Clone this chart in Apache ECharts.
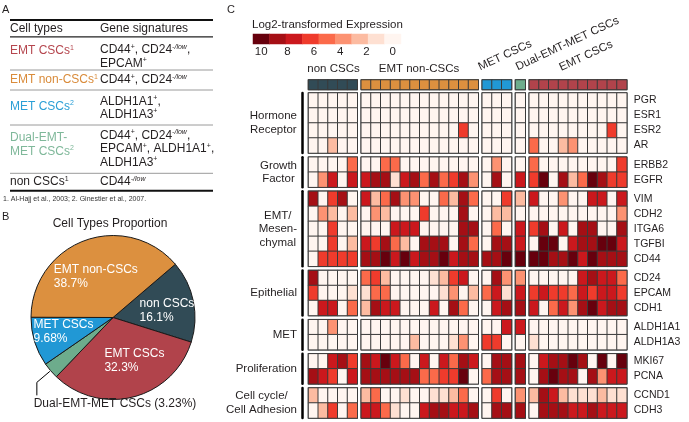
<!DOCTYPE html>
<html><head><meta charset="utf-8">
<script src="https://cdn.jsdelivr.net/npm/echarts@6/dist/echarts.min.js"></script>
<style>html,body{margin:0;padding:0;background:#fff}#c{width:689px;height:422px}</style>
</head><body><div id="c"></div>
<script>
// ---------------- DATA ----------------
// Panel A table
const tableLabels = [
  '{n|EMT CSCs}{s|1}',
  '{n|EMT non-CSCs}{s|1}',
  '{n|MET CSCs}{s|2}',
  '{n|Dual-EMT-}\n{n|MET CSCs}{s|2}',
  '{n|non CSCs}{s|1}'
];
const tableSignatures = [
  '{n|CD44}{s|+}{n|, CD24}{i|-/low}{n|,}\n{n|EPCAM}{s|+}',
  '{n|CD44}{s|+}{n|, CD24}{i|-/low}',
  '{n|ALDH1A1}{s|+}{n|,}\n{n|ALDH1A3}{s|+}',
  '{n|CD44}{s|+}{n|, CD24}{i|-/low}{n|,}\n{n|EPCAM}{s|+}{n|, ALDH1A1}{s|+}{n|,}\n{n|ALDH1A3}{s|+}',
  '{n|CD44}{i|-/low}'
];
const footnote = '1. Al-Hajj et al., 2003; 2. Ginestier et al., 2007.';

// Panel B pie
const pieNames = ['non CSCs', 'EMT CSCs', 'Dual-EMT-MET CSCs', 'MET CSCs', 'EMT non-CSCs'];
const piePercents = [16.1, 32.3, 3.23, 9.68, 38.7];

// Panel C heatmap
const cellTypes = ['non CSCs', 'EMT non-CSCs', 'MET CSCs', 'Dual-EMT-MET CSCs', 'EMT CSCs'];
const cellCounts = [5, 12, 3, 1, 10];
const geneGroups = ['Hormone\nReceptor', 'Growth\nFactor', 'EMT/\nMesen-\nchymal', 'Epithelial', 'MET', 'Proliferation', 'Cell cycle/\nCell Adhesion'];
const groupGenes = [
  ['PGR', 'ESR1', 'ESR2', 'AR'],
  ['ERBB2', 'EGFR'],
  ['VIM', 'CDH2', 'ITGA6', 'TGFBI', 'CD44'],
  ['CD24', 'EPCAM', 'CDH1'],
  ['ALDH1A1', 'ALDH1A3'],
  ['MKI67', 'PCNA'],
  ['CCND1', 'CDH3']
];
// rows: PGR ESR1 ESR2 AR ERBB2 EGFR VIM CDH2 ITGA6 TGFBI CD44 CD24 EPCAM CDH1 ALDH1A1 ALDH1A3 MKI67 PCNA CCND1 CDH3
const exprNonCSCs = [
  [0,0,0,0,0],[0,0,0,0,0],[0,0,0,0,0],[0,0,3,0,0],
  [0,0,0,0,5],[0,4,7,0,7],
  [8,0,6,8,0],[0,4,3,0,3],[0,0,6,0,0],[0,0,6,0,3],[0,6,6,6,6],
  [8,0,0,0,0],[6,0,0,0,2],[0,7,7,0,5],
  [0,0,4,0,0],[0,0,0,0,0],
  [0,0,7,8,6],[8,7,6,0,7],
  [3,0,0,0,0],[0,3,6,0,5]
];
const exprEMTnonCSCs = [
  [0,0,0,0,0,0,0,0,0,0,0,0],
  [0,0,0,0,0,0,0,0,0,0,0,0],
  [0,0,0,0,0,0,0,0,0,0,6,0],
  [0,0,0,0,0,0,0,0,0,0,0,0],
  [0,0,5,5,0,0,0,0,0,0,0,0],
  [7,8,8,2,7,8,5,8,5,6,8,4],
  [7,3,5,8,4,4,0,0,5,3,8,5],
  [0,4,3,0,0,0,6,0,0,0,8,0],
  [0,0,0,7,7,7,0,0,0,0,8,8],
  [7,6,8,5,3,0,8,8,8,0,8,5],
  [8,8,9,7,9,7,8,8,9,7,8,8],
  [5,6,3,0,0,0,0,2,3,6,7,0],
  [2,5,5,0,0,0,0,0,2,4,0,3],
  [3,8,7,7,0,0,0,7,0,8,5,0],
  [0,0,0,0,0,0,0,0,0,0,0,0],
  [0,0,0,0,0,3,0,0,0,2,4,0],
  [8,7,9,7,5,0,7,0,7,5,8,7],
  [8,8,8,8,8,8,5,5,6,6,9,0],
  [3,5,0,0,2,0,0,2,2,3,5,0],
  [7,7,5,2,0,0,7,8,8,7,7,8]
];
const exprMETCSCs = [
  [0,0,0],[0,0,0],[0,0,0],[0,0,0],
  [0,4,0],[0,8,0],
  [0,0,6],[0,3,3],[0,5,0],[0,8,8],[8,8,9],
  [0,8,4],[5,7,2],[0,7,8],
  [0,0,7],[6,6,0],
  [0,8,8],[5,8,8],
  [0,6,0],[0,8,8]
];
const exprDualCSCs = [
  [0],[0],[0],[0],
  [0],[7],
  [3],[0],[7],[7],[9],
  [4],[7],[8],
  [7],[0],
  [8],[8],
  [4],[8]
];
const exprEMTCSCs = [
  [0,0,0,0,0,0,0,0,0,0],
  [0,0,0,0,0,0,0,0,0,0],
  [0,0,0,0,0,0,0,0,6,0],
  [5,0,0,3,4,0,0,0,0,0],
  [5,0,0,0,0,0,0,0,0,6],
  [6,9,0,8,3,5,9,8,6,6],
  [7,0,0,4,0,0,7,7,0,7],
  [0,0,0,0,0,0,0,0,0,4],
  [6,8,0,7,0,8,8,0,0,8],
  [0,9,9,0,7,8,8,9,9,7],
  [9,9,8,8,9,7,9,8,8,8],
  [0,0,0,0,0,7,8,7,7,5],
  [6,7,6,6,5,7,6,7,7,6],
  [7,0,5,7,4,8,9,7,8,8],
  [0,0,0,0,0,0,0,0,0,0],
  [2,0,0,0,0,0,0,0,0,0],
  [0,7,8,8,9,8,0,9,0,9],
  [0,8,9,8,8,0,8,4,7,7],
  [3,8,7,3,2,2,2,3,2,2],
  [0,8,8,8,7,7,8,7,7,7]
];
const colorbarSteps = [10, 8.75, 7.5, 6.25, 5, 3.75, 2.5, 1.25, 0];
const colorbarTicks = [0, 2, 4, 6, 8, 10];

// ---------------- STYLE ----------------
const FONT = '"Liberation Sans", Arial, Helvetica, sans-serif';
const INK = '#231f20';
const reds = ['#fff5f0','#fee0d2','#fcbba1','#fc9272','#fb6a4a','#ef3b2c','#cb181d','#a50f15','#67000d'];
const typeColors = {
  'non CSCs': '#314b56', 'EMT non-CSCs': '#dc903f', 'MET CSCs': '#2198d5',
  'Dual-EMT-MET CSCs': '#6dac8c', 'EMT CSCs': '#b1434b'
};
const tableColors = ['#b5464e', '#d98b3a', '#2a9fd6', '#7fb89a', INK];
const CELL_BORDER = '#3a3a3a';

const chart = echarts.init(document.getElementById('c'), null, {renderer: 'canvas'});

// ---------------- HEATMAP LAYOUT ----------------
const colW = 9.75, colGap = 4, x0 = 308.5;
const rowH = 15, rowGap = 4.17, y0 = 93;
const headerTop = 80, headerH = 9.5;
const exprByType = [exprNonCSCs, exprEMTnonCSCs, exprMETCSCs, exprDualCSCs, exprEMTCSCs];

const colLeft = []; let gx = x0;
cellCounts.forEach(n => { colLeft.push(gx); gx += n * colW + colGap; });
const rowTop = []; let gy = y0;
groupGenes.forEach(g => { rowTop.push(gy); gy += g.length * rowH + rowGap; });

const grid = [], xAxis = [], yAxis = [], series = [];
const exprSeries = [], headerSeries = [];

cellTypes.forEach((ct, c) => {
  const n = cellCounts[c];
  const cols = Array.from({length: n}, (_, i) => String(i));
  grid.push({left: colLeft[c], top: headerTop, width: n * colW, height: headerH, show: true, borderColor: CELL_BORDER, borderWidth: 1.5});
  let gi = grid.length - 1;
  xAxis.push({gridIndex: gi, type: 'category', data: cols, show: false});
  yAxis.push({gridIndex: gi, type: 'category', data: ['h'], show: false});
  series.push({type: 'heatmap', xAxisIndex: xAxis.length - 1, yAxisIndex: yAxis.length - 1,
    data: cols.map((_, i) => [i, 0, c]), itemStyle: {borderColor: CELL_BORDER, borderWidth: 1}, emphasis: {disabled: true}});
  headerSeries.push(series.length - 1);

  let rowOffset = 0;
  groupGenes.forEach((genes, r) => {
    grid.push({left: colLeft[c], top: rowTop[r], width: n * colW, height: genes.length * rowH, show: true, borderColor: CELL_BORDER, borderWidth: 1.5});
    gi = grid.length - 1;
    xAxis.push({gridIndex: gi, type: 'category', data: cols, show: false});
    const ya = {gridIndex: gi, type: 'category', data: genes, inverse: true, show: false};
    if (c === 0) {
      Object.assign(ya, {show: true, position: 'left', offset: 6,
        axisLine: {show: true, lineStyle: {color: '#000', width: 2.5}},
        axisTick: {show: false}, axisLabel: {show: false}, splitLine: {show: false}});
    }
    if (c === cellTypes.length - 1) {
      Object.assign(ya, {show: true, position: 'right',
        axisLine: {show: false}, axisTick: {show: false}, splitLine: {show: false},
        axisLabel: {show: true, margin: 7, fontSize: 10.5, color: INK, fontFamily: FONT}});
    }
    yAxis.push(ya);
    const data = [];
    genes.forEach((g, gr) => {
      exprByType[c][rowOffset + gr].forEach((v, ci) => data.push([ci, gr, v]));
    });
    series.push({type: 'heatmap', xAxisIndex: xAxis.length - 1, yAxisIndex: yAxis.length - 1,
      data, itemStyle: {borderColor: CELL_BORDER, borderWidth: 1}, emphasis: {disabled: true}});
    exprSeries.push(series.length - 1);
    rowOffset += genes.length;
  });
});

// colour bar
const cbLeft = 253, cbWidth = 148, cbTop = 34, cbH = 10;
grid.push({left: cbLeft, top: cbTop, width: cbWidth, height: cbH});
xAxis.push({gridIndex: grid.length - 1, type: 'category', data: colorbarSteps.map(String), show: false});
yAxis.push({gridIndex: grid.length - 1, type: 'category', data: ['c'], show: false});
series.push({type: 'heatmap', xAxisIndex: xAxis.length - 1, yAxisIndex: yAxis.length - 1,
  data: colorbarSteps.map((v, i) => [i, 0, v]), itemStyle: {borderWidth: 0}, emphasis: {disabled: true}});
exprSeries.push(series.length - 1);
const half = cbWidth / colorbarSteps.length / 2;
grid.push({left: cbLeft + half, top: cbTop, width: cbWidth - 2 * half, height: cbH});
xAxis.push({gridIndex: grid.length - 1, type: 'value', min: Math.min(...colorbarTicks), max: Math.max(...colorbarTicks),
  interval: 2, inverse: true, axisLine: {show: false}, axisTick: {show: false}, splitLine: {show: false},
  axisLabel: {fontSize: 11.5, color: INK, margin: 2, fontFamily: FONT}});
yAxis.push({gridIndex: grid.length - 1, type: 'value', show: false, min: 0, max: 1});

// ---------------- PIE ----------------
const pieCenter = [113, 317.5], pieRadius = 82, pieStart = 40.5;
const labelWidths = {'non CSCs': 55, 'EMT CSCs': 59, 'MET CSCs': 59, 'EMT non-CSCs': 82};
const labelShift = {'non CSCs': [11, 2], 'EMT CSCs': [10, 0.5], 'MET CSCs': [-8, 1], 'EMT non-CSCs': [-3, 0.5]};
const pieData = pieNames.map((name, i) => {
  const item = {name, value: piePercents[i], itemStyle: {color: typeColors[name]}};
  if (name === 'Dual-EMT-MET CSCs') {
    item.label = {show: true, position: 'outside', formatter: '{b} ({c}%)', color: INK, fontSize: 12,
      fontFamily: FONT, overflow: 'none', width: 200};
    item.labelLine = {show: false};
  } else {
    item.label = {show: true, position: 'inside', formatter: '{a|{b}}\n{a|{c}%}',
      rich: {a: {color: '#fff', fontSize: 12, lineHeight: 14.5, fontFamily: FONT, align: 'left', width: labelWidths[name]}}};
    item.labelLine = {show: false};
  }
  return item;
});
series.push({
  type: 'pie', center: pieCenter, radius: pieRadius, startAngle: pieStart, clockwise: true,
  data: pieData, itemStyle: {borderColor: '#1a1a1a', borderWidth: 1},
  emphasis: {disabled: true},
  labelLayout: function (p) {
    const name = pieNames[p.dataIndex];
    if (name === 'Dual-EMT-MET CSCs') return {x: 115, y: 404, align: 'center', verticalAlign: 'middle'};
    const s = labelShift[name];
    return {dx: s[0], dy: s[1]};
  }
});

// ---------------- GRAPHICS (text, table rules) ----------------
const g = [];
function txt(x, y, text, o) {
  o = o || {};
  g.push({type: 'text', x, y, rotation: o.rotation || 0, silent: true, style: Object.assign({
    text, fill: o.fill || INK, fontSize: o.fontSize || 12, fontFamily: FONT,
    align: o.align || 'left', verticalAlign: o.verticalAlign || 'middle'}, o.style || {})});
}
function line(x1, y1, x2, y2, w, col) {
  g.push({type: 'line', silent: true, shape: {x1, y1, x2, y2}, style: {stroke: col, lineWidth: w}});
}
// panel letters
txt(2, 10, 'A', {fontSize: 11});
txt(2, 217, 'B', {fontSize: 11});
txt(227, 10, 'C', {fontSize: 11});

// table
line(10, 20, 213, 20, 2, '#111');
line(10, 36.8, 213, 36.8, 1.3, '#222');
[70, 90, 125, 173.3].forEach(y => line(10, y, 213, y, 1, '#9a9a9a'));
line(10, 190.7, 213, 190.7, 2, '#111');
txt(10, 29, 'Cell types');
txt(100, 29, 'Gene signatures');
const labelTops = [44.25, 73.25, 99.75, 131.25, 175.25];
const sigTops = [43.25, 73.25, 94.5, 128.75, 175.25];
function richFor(col) {
  return {
    n: {fill: col, fontSize: 12, lineHeight: 13.5, fontFamily: FONT},
    s: {fill: col, fontSize: 7, fontFamily: FONT, verticalAlign: 'top'},
    i: {fill: col, fontSize: 7, fontStyle: 'italic', fontFamily: FONT, verticalAlign: 'top'}
  };
}
tableLabels.forEach((t, i) => {
  txt(10, labelTops[i], t, {verticalAlign: 'top', fill: tableColors[i], style: {rich: richFor(tableColors[i])}});
  txt(100, sigTops[i], tableSignatures[i], {verticalAlign: 'top', style: {rich: richFor(INK)}});
});
txt(3, 199, footnote, {fontSize: 7, fill: '#333'});

// pie title
txt(110, 224, 'Cell Types Proportion', {align: 'center'});

// leader line of the small Dual-EMT-MET slice, derived from the pie data
(function () {
  const total = piePercents.reduce((a, b) => a + b, 0);
  const k = pieNames.indexOf('Dual-EMT-MET CSCs');
  const before = piePercents.slice(0, k).reduce((a, b) => a + b, 0);
  const mid = (pieStart - (before + piePercents[k] / 2) / total * 360) * Math.PI / 180;
  const px = pieCenter[0] + (pieRadius + 1) * Math.cos(mid);
  const py = pieCenter[1] - (pieRadius + 1) * Math.sin(mid);
  g.push({type: 'polyline', silent: true,
    shape: {points: [[px, py], [px - 13, py + 11], [px - 13, py + 24]]},
    style: {stroke: '#000', lineWidth: 1, fill: null}});
})();

// colour bar title
txt(252, 25, 'Log2-transformed Expression', {fontSize: 11.5});

// column group titles
txt(333.5, 69, 'non CSCs', {align: 'center', fontSize: 11.5});
txt(419, 69, 'EMT non-CSCs', {align: 'center', fontSize: 11.5});
const rot = 25 * Math.PI / 180;
txt(481.5, 73, 'MET CSCs', {verticalAlign: 'bottom', rotation: rot, fontSize: 11.5});
txt(519, 73, 'Dual-EMT-MET CSCs', {verticalAlign: 'bottom', rotation: rot, fontSize: 11.5});
txt(562.5, 73.5, 'EMT CSCs', {verticalAlign: 'bottom', rotation: rot, fontSize: 11.5});

// gene group labels
geneGroups.forEach((name, r) => {
  const cy = rowTop[r] + groupGenes[r].length * rowH / 2;
  const t = name.split('\n').map(s => '{c|' + s + '}').join('\n');
  txt(297, cy, t, {align: 'right', fontSize: 11.5,
    style: {rich: {c: {fill: INK, fontSize: 11.5, lineHeight: 13.5, fontFamily: FONT, align: 'center'}}}});
});

chart.setOption({
  animation: false,
  backgroundColor: '#fff',
  textStyle: {fontFamily: FONT},
  grid, xAxis, yAxis,
  visualMap: [
    {type: 'piecewise', show: false, min: 0, max: 10, splitNumber: 9, dimension: 2,
      seriesIndex: exprSeries, inRange: {color: reds}},
    {type: 'piecewise', show: false, dimension: 2, seriesIndex: headerSeries,
      pieces: cellTypes.map((ct, i) => ({value: i, color: typeColors[ct]}))}
  ],
  series,
  graphic: {elements: g}
});
</script>
</body></html>
